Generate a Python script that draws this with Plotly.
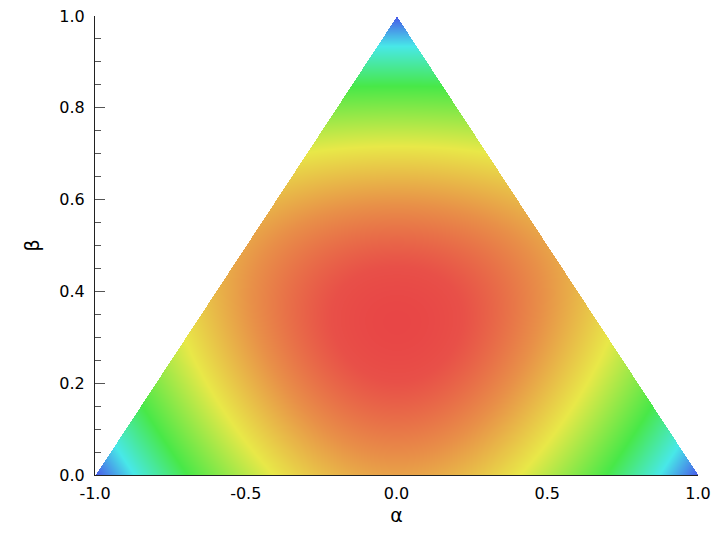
import numpy as np
import plotly.graph_objects as go

# ---- data ----
# triangle corners (alpha, beta)
corner_alpha = [-1.0, 1.0, 0.0]
corner_beta = [0.0, 0.0, 1.0]

# colour bands: level of the soft-largest barycentric weight at which each colour sits
level_u = [0.4807, 0.5125, 0.6059, 0.7206, 0.8485, 0.935, 1.0]
level_col = ["#e84646", "#e85048", "#e89048", "#e8e848", "#48e848", "#48e8e8", "#4858e8"]

x_tickvals = [-1.0, -0.5, 0.0, 0.5, 1.0]
x_ticktext = ["-1.0", "-0.5", "0.0", "0.5", "1.0"]
y_tickvals = [0.0, 0.2, 0.4, 0.6, 0.8, 1.0]
y_ticktext = ["0.0", "0.2", "0.4", "0.6", "0.8", "1.0"]

# ---- field on a grid ----
p_norm = 3
nx, ny = 604, 460
a = np.linspace(min(corner_alpha), max(corner_alpha), nx)
b = np.linspace(min(corner_beta), max(corner_beta), ny)
A, B = np.meshgrid(a, b)
lam_c = B
lam_b = (1 + A - B) / 2
lam_a = (1 - A - B) / 2
inside = (lam_a >= -1e-9) & (lam_b >= -1e-9) & (lam_c >= -1e-9)
la, lb, lc = (np.clip(v, 0, 1) for v in (lam_a, lam_b, lam_c))
u = (la**p_norm + lb**p_norm + lc**p_norm) ** (1.0 / p_norm)
Z = np.where(inside, u, np.nan)

u_min, u_max = level_u[0], level_u[-1]
colorscale = [[(v - u_min) / (u_max - u_min), c] for v, c in zip(level_u, level_col)]

fig = go.Figure(go.Heatmap(
    x=a, y=b, z=Z, colorscale=colorscale, zmin=u_min, zmax=u_max,
    showscale=False, hoverinfo="skip", zsmooth=False,
))

font = dict(family="DejaVu Sans", size=16, color="black")
fig.update_layout(
    width=712, height=532,
    margin=dict(l=87, r=22, t=8, b=65),
    paper_bgcolor="white", plot_bgcolor="white",
    font=font, showlegend=False,
)
fig.update_xaxes(
    range=[-1, 1], tickvals=x_tickvals, ticktext=x_ticktext, automargin=False,
    showgrid=False, zeroline=False, showline=True, linecolor="#222", linewidth=1,
    ticks="inside", ticklen=10, tickcolor="#555", layer="below traces",
    title=dict(text="α", standoff=6), ticklabelstandoff=4, ticklabeloverflow="allow",
)
fig.update_yaxes(
    range=[0, 1], tickvals=y_tickvals, ticktext=y_ticktext, automargin=False,
    showgrid=False, zeroline=False, showline=True, linecolor="#222", linewidth=1,
    ticks="inside", ticklen=10, tickcolor="#555", layer="below traces",
    minor=dict(ticks="inside", ticklen=6, tickcolor="#555", dtick=0.05, showgrid=False),
    title=dict(text="β", standoff=14), ticklabelstandoff=6, ticklabeloverflow="allow",
)

fig.write_html("out.html")
